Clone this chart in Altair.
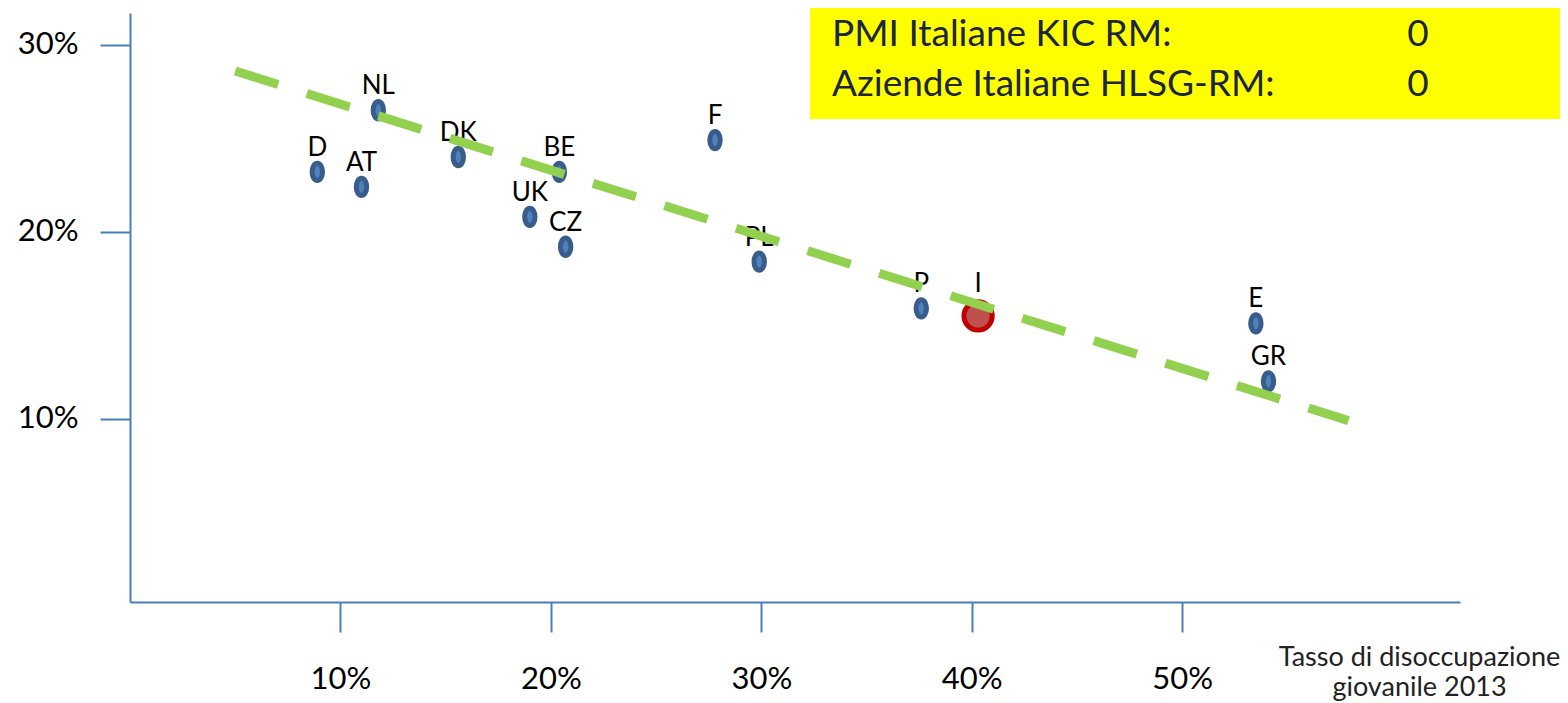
import altair as alt
import pandas as pd

countries = ["D", "AT", "NL", "DK", "UK", "BE", "CZ", "F", "PL", "P", "I", "E", "GR"]
youth_unemp = [8.9, 11.0, 11.8, 15.6, 19.0, 20.4, 20.7, 27.8, 29.9, 37.6, 40.3, 53.5, 54.1]
y_values = [23.2, 22.4, 26.5, 24.0, 20.8, 23.2, 19.2, 24.9, 18.4, 15.9, 15.5, 15.1, 12.0]
highlight = "I"

trend_x = [5.0, 57.9]
trend_y = [28.6, 9.9]

x_ticks = [10, 20, 30, 40, 50]
y_ticks = [10, 20, 30]

box_lines = ["PMI Italiane KIC RM:", "Aziende Italiane HLSG-RM:"]
box_values = ["0", "0"]

x_title = ["Tasso di disoccupazione", "giovanile 2013"]

df = pd.DataFrame({"country": countries, "x": youth_unemp, "y": y_values})
df_blue = df[df["country"] != highlight]
df_red = df[df["country"] == highlight]
trend = pd.DataFrame({"x": trend_x, "y": trend_y})

FONT = "Lato"
AXIS_COLOR = "#4a7ebb"
BOX_TEXT = "#1c2541"

xscale = alt.Scale(domain=[0, 63.2], nice=False, zero=False)
yscale = alt.Scale(domain=[0.2, 31.7], nice=False, zero=False)

xenc = alt.X("x:Q", scale=xscale, axis=alt.Axis(
    values=x_ticks, labelExpr="datum.value + '%'", grid=False,
    domainColor=AXIS_COLOR, domainWidth=2, tickColor=AXIS_COLOR, tickWidth=2,
    tickSize=30, labelFont=FONT, labelFontSize=31, labelColor="black",
    labelPadding=32, title=x_title, titleFont=FONT, titleFontSize=27,
    titleFontWeight="normal", titleColor="#222222", titleX=1289, titleY=63,
    titleAlign="center", titleBaseline="alphabetic", titleLineHeight=30))
yenc = alt.Y("y:Q", scale=yscale, axis=alt.Axis(
    values=y_ticks, labelExpr="datum.value + '%'", grid=False,
    domainColor=AXIS_COLOR, domainWidth=2, tickColor=AXIS_COLOR, tickWidth=2,
    tickSize=30, labelFont=FONT, labelFontSize=31, labelColor="black",
    labelPadding=22, title=None))

ellipse = "M0,-1A0.6,1,0,1,1,0,1A0.6,1,0,1,1,0,-1Z"

blue_pts = alt.Chart(df_blue).mark_point(
    shape=ellipse, size=300, filled=True, fill="#4f81bd", stroke="#385d8a",
    strokeWidth=5, opacity=1).encode(x=xenc, y=yenc)

red_pt = alt.Chart(df_red).mark_point(
    shape="circle", size=800, filled=True, fill="#c0504d", stroke="#c00000",
    strokeWidth=5, opacity=1).encode(x="x:Q", y="y:Q")

labels = alt.Chart(df_blue).mark_text(
    font=FONT, fontSize=26, color="black", dy=-24, baseline="middle").encode(
    x="x:Q", y="y:Q", text="country:N")
red_label = alt.Chart(df_red).mark_text(
    font=FONT, fontSize=26, color="black", dy=-32, baseline="middle").encode(
    x="x:Q", y="y:Q", text="country:N")

trend_line = alt.Chart(trend).mark_line(
    color="#92d050", strokeWidth=9, strokeDash=[45, 30], strokeCap="butt").encode(
    x="x:Q", y="y:Q")

box = alt.Chart(pd.DataFrame({"k": [0]})).mark_rect(color="#ffff00").encode(
    x=alt.value(680), x2=alt.value(1440), y=alt.value(-20), y2=alt.value(106))

box_df = pd.DataFrame({"label": box_lines, "val": box_values})
row_y = [33, 83]
box_layers = []
for i in range(len(box_lines)):
    sub = box_df.iloc[[i]]
    box_layers.append(alt.Chart(sub).mark_text(
        font=FONT, fontSize=37, color=BOX_TEXT, align="left", baseline="alphabetic").encode(
        x=alt.value(702), y=alt.value(row_y[i]), text="label:N"))
    box_layers.append(alt.Chart(sub).mark_text(
        font=FONT, fontSize=37, color=BOX_TEXT, align="center", baseline="alphabetic").encode(
        x=alt.value(1288), y=alt.value(row_y[i]), text="val:N"))

chart = alt.layer(blue_pts, red_pt, labels, red_label, trend_line, box, *box_layers).properties(
    width=1330, height=589,
    autosize=alt.AutoSizeParams(type="none"),
    padding={"left": 122, "top": 5, "right": 100, "bottom": 100},
    background="white",
).configure_view(stroke=None)

chart.save("out.html", embed_options={"renderer": "svg", "actions": False})
